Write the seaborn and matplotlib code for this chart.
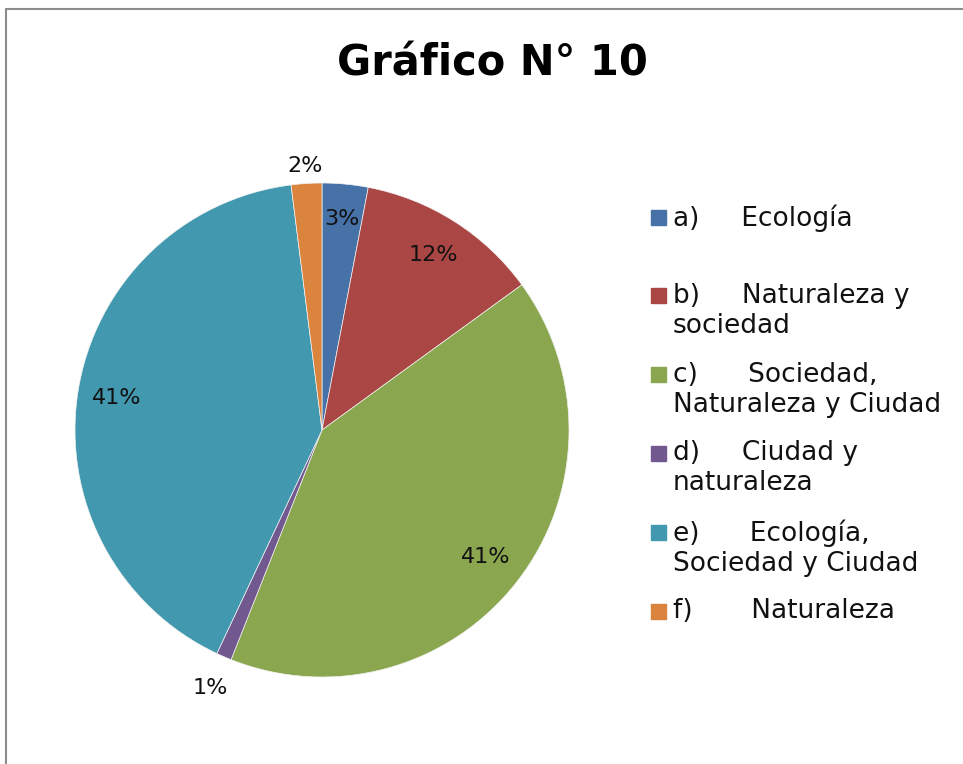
import numpy as np
import matplotlib
matplotlib.use("Agg")
from matplotlib import pyplot as plt
from matplotlib.patches import Rectangle
from matplotlib.lines import Line2D
import seaborn as sns

# data
categories = ["a)     Ecología",
              "b)     Naturaleza y\nsociedad",
              "c)      Sociedad,\nNaturaleza y Ciudad",
              "d)     Ciudad y\nnaturaleza",
              "e)      Ecología,\nSociedad y Ciudad",
              "f)       Naturaleza"]
percents = [3, 12, 41, 1, 41, 2]
colors = ["#4672A8", "#AA4644", "#8AA64E", "#71588F", "#4198AF", "#DB843D"]
label_dist = [0.86, 0.84, 0.84, 1.14, 0.84, 1.07]

sns.set_theme(style="white")
plt.rcParams['font.family'] = ['DejaVu Sans']

W, H = 963, 764
fig = plt.figure(figsize=(W / 100, H / 100), dpi=100)

# pie axes: centre (322, 430) px, radius 247 px
cx, cy, r = 322, 430, 247
ax = fig.add_axes([(cx - r) / W, (H - cy - r) / H, 2 * r / W, 2 * r / H])
wedges, _ = ax.pie(percents, colors=colors, startangle=90, counterclock=False,
                   radius=1, wedgeprops=dict(linewidth=0.5, edgecolor="#f2f2f2"))
ax.set_xlim(-1, 1)
ax.set_ylim(-1, 1)
ax.set_aspect("equal")
ax.axis("off")

for w, p, d in zip(wedges, percents, label_dist):
    mid = np.deg2rad((w.theta1 + w.theta2) / 2)
    ax.text(d * np.cos(mid), d * np.sin(mid), f"{p}%", ha="center", va="center",
            fontsize=16, color="#111111")

fig.text(492 / W, 1 - 63 / H, "Gráfico N° 10", ha="center", va="center",
         fontsize=30, fontweight="bold", color="black")

# legend drawn by hand so the swatch lines up with the first line of text
y0, step = 217, 78.8
for i, (lab, col) in enumerate(zip(categories, colors)):
    y = y0 + i * step
    fig.patches.append(Rectangle((651 / W, 1 - (y + 7.5) / H), 15 / W, 15 / H,
                                 transform=fig.transFigure, color=col))
    fig.text(673 / W, 1 - (y - 13) / H, lab, ha="left", va="top", fontsize=19,
             color="#111111", linespacing=1.2)

# chart border (left and top visible)
fig.add_artist(Line2D([6 / W, 6 / W], [0, 1 - 9 / H], transform=fig.transFigure,
                      color="#8c8c8c", linewidth=1.5))
fig.add_artist(Line2D([6 / W, 1], [1 - 9 / H, 1 - 9 / H], transform=fig.transFigure,
                      color="#8c8c8c", linewidth=1.5))

fig.savefig("out.png", dpi=100, facecolor="white")
